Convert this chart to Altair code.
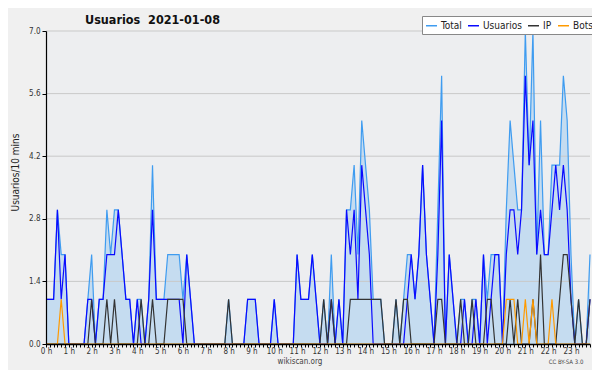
import altair as alt
import pandas as pd

# 10-minute slots, 144 per day
users = [1,1,1,3,1,2,0,0,0,0,0,1,
         1,0,1,1,2,2,2,3,2,1,1,0,
         1,0,0,1,3,1,1,1,1,1,1,1,
         0,2,1,0,0,0,0,0,0,0,0,0,
         0,0,0,0,0,1,1,1,0,0,0,0,
         1,0,0,0,0,0,2,1,1,1,2,1,
         0,0,0,1,0,1,0,3,2,3,1,4,
         3,2,0,0,0,0,0,0,0,0,0,1,
         2,1,2,4,2,1,0,2,5,0,2,1,
         0,0,1,0,0,1,0,2,0,1,2,2,
         0,2,3,3,2,3,6,4,5,2,3,2,
         2,3,4,3,4,3,1,0,0,0,0,1]
ip = [0,0,0,0,0,0,0,0,0,0,0,0,
      1,0,0,0,1,0,1,0,0,0,0,0,
      0,1,0,0,1,0,0,0,1,1,1,1,
      1,0,0,0,0,0,0,0,0,0,0,0,
      1,0,0,0,0,0,0,0,0,0,0,0,
      0,0,0,0,0,0,0,0,0,0,0,0,
      0,1,0,1,0,0,0,0,1,1,1,1,
      1,1,1,1,1,0,0,0,1,0,1,1,
      0,0,0,0,0,0,0,1,1,0,0,0,
      0,1,0,0,1,0,0,0,1,1,0,0,
      0,0,1,0,1,0,0,0,1,0,2,0,
      0,0,0,1,2,2,1,0,1,0,0,1]
bots = [0,0,0,0,1,0,0,0,0,0,0,0,
        0,0,0,0,0,0,0,0,0,0,0,0,
        0,0,0,0,0,0,0,0,0,0,0,0,
        0,0,0,0,0,0,0,0,0,0,0,0,
        0,0,0,0,0,0,0,0,0,0,0,0,
        0,0,0,0,0,0,0,0,0,0,0,0,
        0,0,0,0,0,0,0,0,0,0,0,0,
        0,0,0,0,0,0,0,0,0,0,0,0,
        0,0,0,0,0,0,0,0,0,0,0,0,
        0,0,0,0,0,0,0,0,0,0,0,0,
        0,1,1,1,0,0,1,0,1,0,0,0,
        0,1,0,0,0,0,0,0,0,0,0,0]
total = [1,1,1,3,2,2,0,0,0,0,0,1,
         2,0,1,1,3,2,3,3,2,1,1,0,
         1,1,0,1,4,1,1,1,2,2,2,2,
         1,2,1,0,0,0,0,0,0,0,0,0,
         1,0,0,0,0,1,1,1,0,0,0,0,
         1,0,0,0,0,0,2,1,1,1,2,1,
         0,1,0,2,0,1,0,3,3,4,2,5,
         4,3,1,1,1,0,0,0,1,0,1,2,
         2,1,2,4,2,1,0,3,6,0,2,1,
         0,1,1,0,1,1,0,2,1,2,2,2,
         0,3,5,4,3,3,7,4,7,2,5,2,
         2,4,4,4,6,5,2,0,1,0,0,2]

series_names = ["Total", "Usuarios", "IP", "Bots"]
series_colors = ["#3f9cf0", "#0a0aff", "#333333", "#ff9a00"]
y_major = [0.0, 1.4, 2.8, 4.2, 5.6, 7.0]
y_minor = [round(0.35 * k, 2) for k in range(21)]
hour_labels = [f"{h} h" for h in range(24)]

idx = list(range(len(total)))
wide = pd.DataFrame({"i": idx, "Total": total, "Usuarios": users, "IP": ip, "Bots": bots})
long = wide.melt(id_vars="i", var_name="serie", value_name="v")
grid_df = pd.DataFrame({"g": y_major[1:]})

FONT = "DejaVu Sans Condensed, DejaVu Sans"
labels_js = "[" + ",".join(f"'{s}'" for s in hour_labels) + "]"

x_scale = alt.Scale(domain=[0, 143], nice=False, zero=False)
y_scale = alt.Scale(domain=[0, 7], nice=False)

x_axis = alt.Axis(values=idx,
                  labelExpr=f"datum.value % 6 == 0 ? {labels_js}[datum.value / 6] : ''",
                  labelOverlap=False, tickSize=3, tickColor="black", domainColor="black",
                  domainWidth=1.5, zindex=1,
                  labelFontSize=8, labelColor="#333", grid=False, title=None,
                  labelPadding=0, labelFont=FONT, labelBound=False, labelFlush=False)
y_axis = alt.Axis(values=y_minor,
                  labelExpr="abs(datum.value / 1.4 - round(datum.value / 1.4)) < 0.01 ? format(datum.value, '.1f') : ''",
                  labelOverlap=False, tickSize=4, tickColor="black", domainColor="black",
                  domainWidth=1.2, zindex=1,
                  labelFontSize=8, labelColor="#333", grid=False, labelFont=FONT,
                  title="Usuarios/10 mins", titleFont=FONT, titleFontSize=10,
                  titleFontWeight="normal", titleColor="#222", titleX=-31, titleY=141,
                  titleBaseline="middle", labelPadding=2)

X = alt.X("i:Q", scale=x_scale, axis=x_axis)

area = alt.Chart(wide).mark_area(color="#c5dcf0", opacity=1, interpolate="linear").encode(
    x=X, y=alt.Y("Total:Q", scale=y_scale, axis=y_axis)
)

grid = alt.Chart(grid_df).mark_rule(color="#c9c9c9", strokeWidth=1).encode(
    y=alt.Y("g:Q", scale=y_scale)
)

color = alt.Color("serie:N", scale=alt.Scale(domain=series_names, range=series_colors),
                  legend=alt.Legend(orient="none", legendX=376, legendY=-15, direction="horizontal",
                                    title=None, fillColor="white", strokeColor="#888",
                                    padding=3, symbolType="stroke", symbolStrokeWidth=1.5,
                                    symbolSize=121, labelFontSize=10, labelFont=FONT,
                                    labelColor="#222", columnPadding=3, labelOffset=3))

line_layers = []
for name in series_names:
    line_layers.append(
        alt.Chart(long).transform_filter(alt.datum.serie == name).mark_line(strokeWidth=1.2).encode(
            x=X, y=alt.Y("v:Q", scale=y_scale), color=color
        )
    )

foot1 = alt.Chart(pd.DataFrame({"t": ["wikiscan.org"]})).mark_text(
    fontSize=8, font=FONT, color="#444", align="center", baseline="middle"
).encode(text="t:N", x=alt.value(254), y=alt.value(331))
foot2 = alt.Chart(pd.DataFrame({"t": ["CC BY-SA 3.0"]})).mark_text(
    fontSize=6, font=FONT, color="#444", align="center", baseline="middle"
).encode(text="t:N", x=alt.value(520), y=alt.value(331))

chart = alt.layer(area, grid, *line_layers, foot1, foot2).properties(
    width=544, height=313,
    title=alt.TitleParams("Usuarios\u00a0 2021-01-08", anchor="start", dx=39, dy=21, offset=0,
                          fontSize=12.5, fontWeight="bold", font=FONT, color="#111",
                          baseline="alphabetic", frame="group"),
    autosize=alt.AutoSizeParams(type="none"),
    padding={"left": 38, "top": 23, "right": 2, "bottom": 26},
).configure(background="#f0f0f0").configure_view(fill="#edeef0", stroke=None)

chart.save("out.html", embed_options={"renderer": "svg", "actions": False})
